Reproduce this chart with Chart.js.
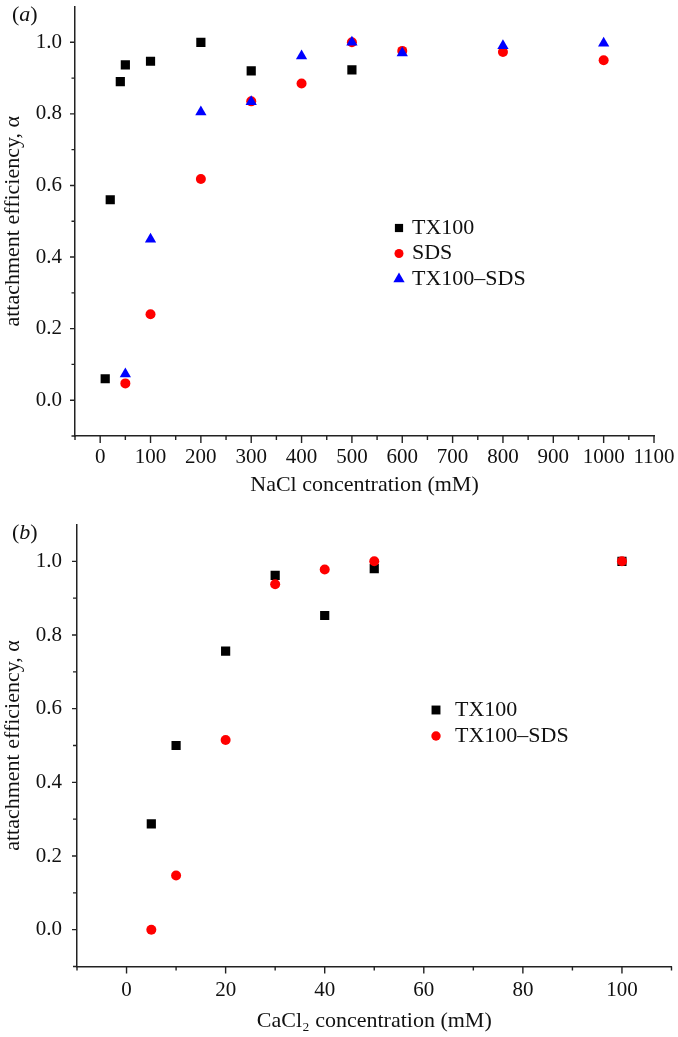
<!DOCTYPE html>
<html>
<head>
<meta charset="utf-8">
<script src="https://cdn.jsdelivr.net/npm/chart.js@4.4.0/dist/chart.umd.min.js"></script>
<style>
  html, body { margin: 0; padding: 0; background: #fff; }
  #wrap { position: relative; width: 678px; height: 1037px; }
  #wrap canvas { position: absolute; left: 0; }
</style>
</head>
<body>
<div id="wrap">
  <canvas id="chartA" width="678" height="518" style="top:0px"></canvas>
  <canvas id="chartB" width="678" height="519" style="top:518px"></canvas>
</div>
<script>
//--------------------------------------------------
// DATA - panel (a), NaCl
//--------------------------------------------------
const naclTX100X = [10, 20, 40, 50, 100, 200, 300, 500];
const naclTX100Y = [0.06, 0.56, 0.89, 0.937, 0.947, 1.0, 0.92, 0.923];
const naclSDSX = [50, 100, 200, 300, 400, 500, 600, 800, 1000];
const naclSDSY = [0.047, 0.24, 0.618, 0.835, 0.885, 1.0, 0.976, 0.973, 0.95];
const naclMixX = [50, 100, 200, 300, 400, 500, 600, 800, 1000];
const naclMixY = [0.073, 0.45, 0.805, 0.834, 0.962, 1.0, 0.97, 0.99, 0.997];

//--------------------------------------------------
// DATA - panel (b), CaCl2
//--------------------------------------------------
const caclTX100X = [5, 10, 20, 30, 40, 50, 100];
const caclTX100Y = [0.287, 0.5, 0.756, 0.962, 0.853, 0.98, 1.0];
const caclMixX = [5, 10, 20, 30, 40, 50, 100];
const caclMixY = [0.0, 0.147, 0.515, 0.938, 0.978, 1.0, 1.0];

//--------------------------------------------------
// TICK LABELS
//--------------------------------------------------
const yTickLabels = ["0.0", "0.2", "0.4", "0.6", "0.8", "1.0"];
const naclTickLabels = [0, 100, 200, 300, 400, 500, 600, 700, 800, 900, 1000, 1100];
const caclTickLabels = [0, 20, 40, 60, 80, 100];

const serif = "'Liberation Serif', 'Times New Roman', serif";
const axisColor = "#222";
const textColor = "#111";

function pts(xs, ys) {
    return xs.map((x, i) => ({ x: x, y: ys[i] }));
}

//--------------------------------------------------
// PLUGIN: outward tick marks, major longer than minor
//--------------------------------------------------
const tickMarks = {
    id: "tickMarks",
    afterDraw(chart, args, opts) {
        const ctx = chart.ctx;
        const sx = chart.scales.x, sy = chart.scales.y;
        ctx.save();
        ctx.strokeStyle = axisColor;
        ctx.lineWidth = 1.4;
        ctx.beginPath();
        sx.ticks.forEach(t => {
            const px = sx.getPixelForValue(t.value);
            const len = t.label !== "" ? opts.xMajor : opts.xMinor;
            ctx.moveTo(px, sx.top);
            ctx.lineTo(px, sx.top + len);
        });
        sy.ticks.forEach(t => {
            if (Math.abs(t.value - sy.max) < 1e-6) return;
            const py = sy.getPixelForValue(t.value);
            const len = t.label !== "" ? opts.yMajor : opts.yMinor;
            ctx.moveTo(sy.right - len, py);
            ctx.lineTo(sy.right, py);
        });
        ctx.stroke();
        ctx.restore();
    }
};

//--------------------------------------------------
// PLUGIN: legend inside the plot + panel tag
//--------------------------------------------------
const boxLegend = {
    id: "boxLegend",
    afterDraw(chart, args, opts) {
        const ctx = chart.ctx;
        ctx.save();
        chart.data.datasets.forEach((ds, i) => {
            const y = opts.y + i * opts.gap;
            ctx.fillStyle = ds.pointBackgroundColor;
            Chart.helpers.drawPoint(ctx, {
                pointStyle: ds.pointStyle,
                radius: opts.radius[i],
                rotation: 0,
                borderWidth: 0
            }, opts.x, y);
            ctx.fillStyle = textColor;
            ctx.font = "22px " + serif;
            ctx.textBaseline = "middle";
            ctx.textAlign = "left";
            ctx.fillText(ds.label, opts.textX, y);
        });

        // (a) / (b)
        const tag = opts.tag;
        let x = 12;
        const y = opts.tagY;
        ctx.fillStyle = textColor;
        ctx.textBaseline = "middle";
        ctx.textAlign = "left";
        ctx.font = "22px " + serif;
        ctx.fillText("(", x, y);
        x += ctx.measureText("(").width;
        ctx.font = "italic 22px " + serif;
        ctx.fillText(tag, x, y);
        x += ctx.measureText(tag).width;
        ctx.font = "22px " + serif;
        ctx.fillText(")", x, y);
        ctx.restore();
    }
};

//--------------------------------------------------
// OPTIONS
//--------------------------------------------------
function makeOptions(cfg) {
    return {
        responsive: false,
        animation: false,
        events: [],
        layout: { padding: { top: cfg.top, right: cfg.right, left: 0, bottom: 0 } },
        plugins: {
            legend: { display: false },
            tooltip: { enabled: false },
            tickMarks: cfg.ticks,
            boxLegend: cfg.legend
        },
        scales: {
            x: {
                type: "linear",
                min: cfg.xMin,
                max: cfg.xMax,
                afterFit(s) {
                    s.height = cfg.xHeight;
                    s.paddingLeft = 0;
                    s.paddingRight = 0;
                },
                grid: { display: false, drawTicks: false },
                border: { display: true, color: axisColor, width: 1.5 },
                ticks: {
                    stepSize: cfg.xStep,
                    autoSkip: false,
                    maxRotation: 0,
                    padding: cfg.xPad,
                    color: textColor,
                    font: { family: serif, size: 21 },
                    callback: v => {
                        const r = Math.round(v);
                        return (Math.abs(v - r) < 1e-6 && cfg.xLabels.includes(r)) ? String(r) : "";
                    }
                },
                title: {
                    display: true,
                    text: cfg.xTitle,
                    color: textColor,
                    font: { family: serif, size: 22 },
                    padding: { top: 0, bottom: cfg.xTitlePad }
                }
            },
            y: {
                type: "linear",
                min: -0.1,
                max: 1.1,
                afterFit(s) {
                    s.width = cfg.yWidth;
                    s.paddingTop = 0;
                    s.paddingBottom = 0;
                },
                grid: { display: false, drawTicks: false },
                border: { display: true, color: axisColor, width: 1.5 },
                ticks: {
                    stepSize: 0.1,
                    autoSkip: false,
                    padding: cfg.yPad,
                    color: textColor,
                    font: { family: serif, size: 21 },
                    callback: v => {
                        const k = Math.round(v * 10);
                        return (k >= 0 && k <= 10 && k % 2 === 0) ? yTickLabels[k / 2] : "";
                    }
                },
                title: {
                    display: true,
                    text: "attachment efficiency, α",
                    color: textColor,
                    font: { family: serif, size: 22 },
                    padding: { top: 0, bottom: 0 }
                }
            }
        }
    };
}

function series(label, xs, ys, style, color, r, order) {
    return {
        label: label,
        data: pts(xs, ys),
        pointStyle: style,
        pointBackgroundColor: color,
        pointBorderWidth: 0,
        pointRadius: r,
        showLine: false,
        order: order
    };
}

//--------------------------------------------------
// CHART (a)
//--------------------------------------------------
new Chart(document.getElementById("chartA"), {
    type: "scatter",
    data: {
        datasets: [
            series("TX100", naclTX100X, naclTX100Y, "rect", "#000000", 6.5, 3),
            series("SDS", naclSDSX, naclSDSY, "circle", "#ff0000", 5, 2),
            series("TX100–SDS", naclMixX, naclMixY, "triangle", "#0000ff", 6.5, 1)
        ]
    },
    options: makeOptions({
        top: 5, right: 24, yWidth: 75, xHeight: 82,
        xMin: -50, xMax: 1100, xStep: 50, xLabels: naclTickLabels,
        xPad: 9, yPad: 13, xTitlePad: 20,
        xTitle: "NaCl concentration (mM)",
        ticks: { xMajor: 7, xMinor: 4, yMajor: 5, yMinor: 3.5 },
        legend: { x: 399, textX: 412, y: 228, gap: 25.5, radius: [5.8, 4.5, 6.5], tag: "a", tagY: 15 }
    }),
    plugins: [tickMarks, boxLegend]
});

//--------------------------------------------------
// CHART (b)
//--------------------------------------------------
new Chart(document.getElementById("chartB"), {
    type: "scatter",
    data: {
        datasets: [
            series("TX100", caclTX100X, caclTX100Y, "rect", "#000000", 6.5, 2),
            series("TX100–SDS", caclMixX, caclMixY, "circle", "#ff0000", 5, 1)
        ]
    },
    options: makeOptions({
        top: 6, right: 6, yWidth: 77, xHeight: 70.5,
        xMin: -10, xMax: 110, xStep: 10, xLabels: caclTickLabels,
        xPad: 11, yPad: 15, xTitlePad: 3,
        xTitle: "CaCl₂ concentration (mM)",
        ticks: { xMajor: 7, xMinor: 4, yMajor: 5, yMinor: 4 },
        legend: { x: 436, textX: 455, y: 192, gap: 26, radius: [6.3, 4.7], tag: "b", tagY: 15 }
    }),
    plugins: [tickMarks, boxLegend]
});
</script>
</body>
</html>
